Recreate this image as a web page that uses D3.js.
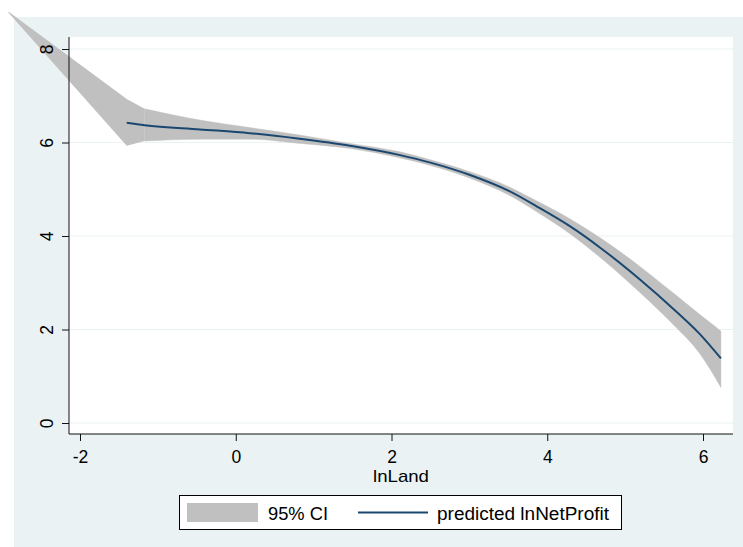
<!DOCTYPE html>
<html>
<head>
<meta charset="utf-8">
<script src="https://cdn.jsdelivr.net/npm/d3@7"></script>
<style>
  html, body { margin: 0; padding: 0; background: #ffffff; }
  svg { display: block; font-family: "Liberation Sans", Arial, sans-serif; }
</style>
</head>
<body>
<svg id="chart" width="743" height="547"></svg>
<script>
// 95% confidence band of the fitted lnNetProfit over lnLand
const bandX  = [-2.92, -1.40, -1.17, -0.46, 0.18, 0.82, 1.47, 2.11, 2.50, 3.00, 3.50, 3.90, 4.29, 4.68, 5.19, 5.62, 5.96, 6.23];
const bandHi = [ 8.80,  6.93,  6.72,  6.48, 6.32, 6.16, 5.98, 5.80, 5.63, 5.38, 5.06, 4.72, 4.37, 3.96, 3.35, 2.78, 2.32, 1.97];
const bandLo = [ 8.78,  5.93,  6.03,  6.07, 6.07, 5.98, 5.87, 5.67, 5.51, 5.24, 4.88, 4.48, 4.05, 3.54, 2.79, 2.10, 1.48, 0.76];

// Predicted lnNetProfit
const fitX = [-1.40, -1.17, -0.46, 0.18, 0.82, 1.47, 2.11, 2.50, 3.00, 3.50, 3.90, 4.29, 4.68, 5.19, 5.62, 5.96, 6.23];
const fitY = [ 6.42,  6.37,  6.28, 6.20, 6.08, 5.93, 5.73, 5.57, 5.31, 4.97, 4.60, 4.21, 3.75, 3.07, 2.44, 1.90, 1.38];

const xTicks = [-2, 0, 2, 4, 6];
const yTicks = [0, 2, 4, 6, 8];
const xTitle = "lnLand";
const legendLabels = ["95% CI", "predicted lnNetProfit"];

const outer = { x0: 14, y0: 17, x1: 743, y1: 547 };
const plot  = { x0: 69, y0: 37, x1: 733, y1: 434 };

const colBg = "#eaf2f3", colBand = "#c0c0c0", colLine = "#1a476f", colAxis = "#111111";
const fontSize = 17.5;
const fmt = d => String(d);   // plain hyphen for negatives

const svg = d3.select("#chart");

const x = d3.scaleLinear().domain([-2, 6]).range([80, 703]);
const y = d3.scaleLinear().domain([0, 8]).range([423, 49]);

// graph and plot regions
svg.append("rect").attr("x", outer.x0).attr("y", outer.y0)
  .attr("width", outer.x1 - outer.x0).attr("height", outer.y1 - outer.y0).attr("fill", colBg);
svg.append("rect").attr("x", plot.x0).attr("y", plot.y0)
  .attr("width", plot.x1 - plot.x0).attr("height", plot.y1 - plot.y0).attr("fill", "#ffffff");

// horizontal grid
svg.append("g").selectAll("line").data(yTicks).join("line")
  .attr("x1", plot.x0).attr("x2", plot.x1)
  .attr("y1", d => y(d)).attr("y2", d => y(d))
  .attr("stroke", colBg).attr("stroke-width", 1.2);

// confidence band: straight segments on the sparse left tail, smooth over the rest
const bandData = bandX.map((v, i) => ({ x: v, lo: bandLo[i], hi: bandHi[i] }));
const split = 2;
const bandArea = c => d3.area().x(d => x(d.x)).y0(d => y(d.lo)).y1(d => y(d.hi)).curve(c);
const gBand = svg.append("g").attr("fill", colBand);
gBand.append("path").datum(bandData.slice(0, split + 1)).attr("d", bandArea(d3.curveLinear));
gBand.append("path").datum(bandData.slice(split)).attr("d", bandArea(d3.curveMonotoneX))
  .attr("stroke", colBand).attr("stroke-width", 0.4);

// fitted line
const fitData = fitX.map((v, i) => ({ x: v, y: fitY[i] }));
svg.append("path").datum(fitData)
  .attr("fill", "none").attr("stroke", colLine).attr("stroke-width", 2)
  .attr("d", d3.line().x(d => x(d.x)).y(d => y(d.y)).curve(d3.curveMonotoneX));

// axes
const gx = svg.append("g").attr("transform", `translate(0,${plot.y1})`)
  .call(d3.axisBottom(x).tickValues(xTicks).tickSize(7).tickSizeOuter(0).tickFormat(fmt));
gx.select(".domain").remove();
gx.selectAll(".tick line").attr("stroke", colAxis);
gx.selectAll(".tick text").attr("font-size", fontSize).attr("fill", "#000")
  .attr("font-family", "Liberation Sans, Arial, sans-serif")
  .attr("dy", null).attr("y", 29);

const gy = svg.append("g").attr("transform", `translate(${plot.x0},0)`)
  .call(d3.axisLeft(y).tickValues(yTicks).tickSize(7).tickSizeOuter(0).tickFormat(fmt));
gy.select(".domain").remove();
gy.selectAll(".tick line").attr("stroke", colAxis);
gy.selectAll(".tick text").attr("font-size", fontSize).attr("fill", "#000")
  .attr("font-family", "Liberation Sans, Arial, sans-serif")
  .attr("x", null).attr("dy", null)
  .attr("text-anchor", "middle")
  .attr("transform", "translate(-16,0) rotate(-90)");

svg.append("line").attr("x1", plot.x0).attr("x2", plot.x0).attr("y1", plot.y0).attr("y2", plot.y1)
  .attr("stroke", colAxis).attr("stroke-width", 1);
svg.append("line").attr("x1", plot.x0).attr("x2", plot.x1).attr("y1", plot.y1).attr("y2", plot.y1)
  .attr("stroke", colAxis).attr("stroke-width", 1);

// axis title
svg.append("text").attr("x", (plot.x0 + plot.x1) / 2).attr("y", 482)
  .attr("text-anchor", "middle").attr("font-size", 17)
  .attr("textLength", 56).attr("lengthAdjust", "spacingAndGlyphs").text(xTitle);

// legend
const lg = svg.append("g");
lg.append("rect").attr("x", 179.5).attr("y", 495.5).attr("width", 442).attr("height", 34)
  .attr("fill", "#ffffff").attr("stroke", "#000").attr("stroke-width", 1);
lg.append("rect").attr("x", 187).attr("y", 503).attr("width", 71).attr("height", 19).attr("fill", colBand);
lg.append("text").attr("x", 268).attr("y", 519.5).attr("font-size", fontSize)
  .attr("textLength", 60).attr("lengthAdjust", "spacingAndGlyphs").text(legendLabels[0]);
lg.append("line").attr("x1", 358).attr("x2", 428).attr("y1", 512.5).attr("y2", 512.5)
  .attr("stroke", colLine).attr("stroke-width", 2);
lg.append("text").attr("x", 437).attr("y", 519.5).attr("font-size", fontSize)
  .attr("textLength", 172).attr("lengthAdjust", "spacingAndGlyphs").text(legendLabels[1]);
</script>
</body>
</html>
